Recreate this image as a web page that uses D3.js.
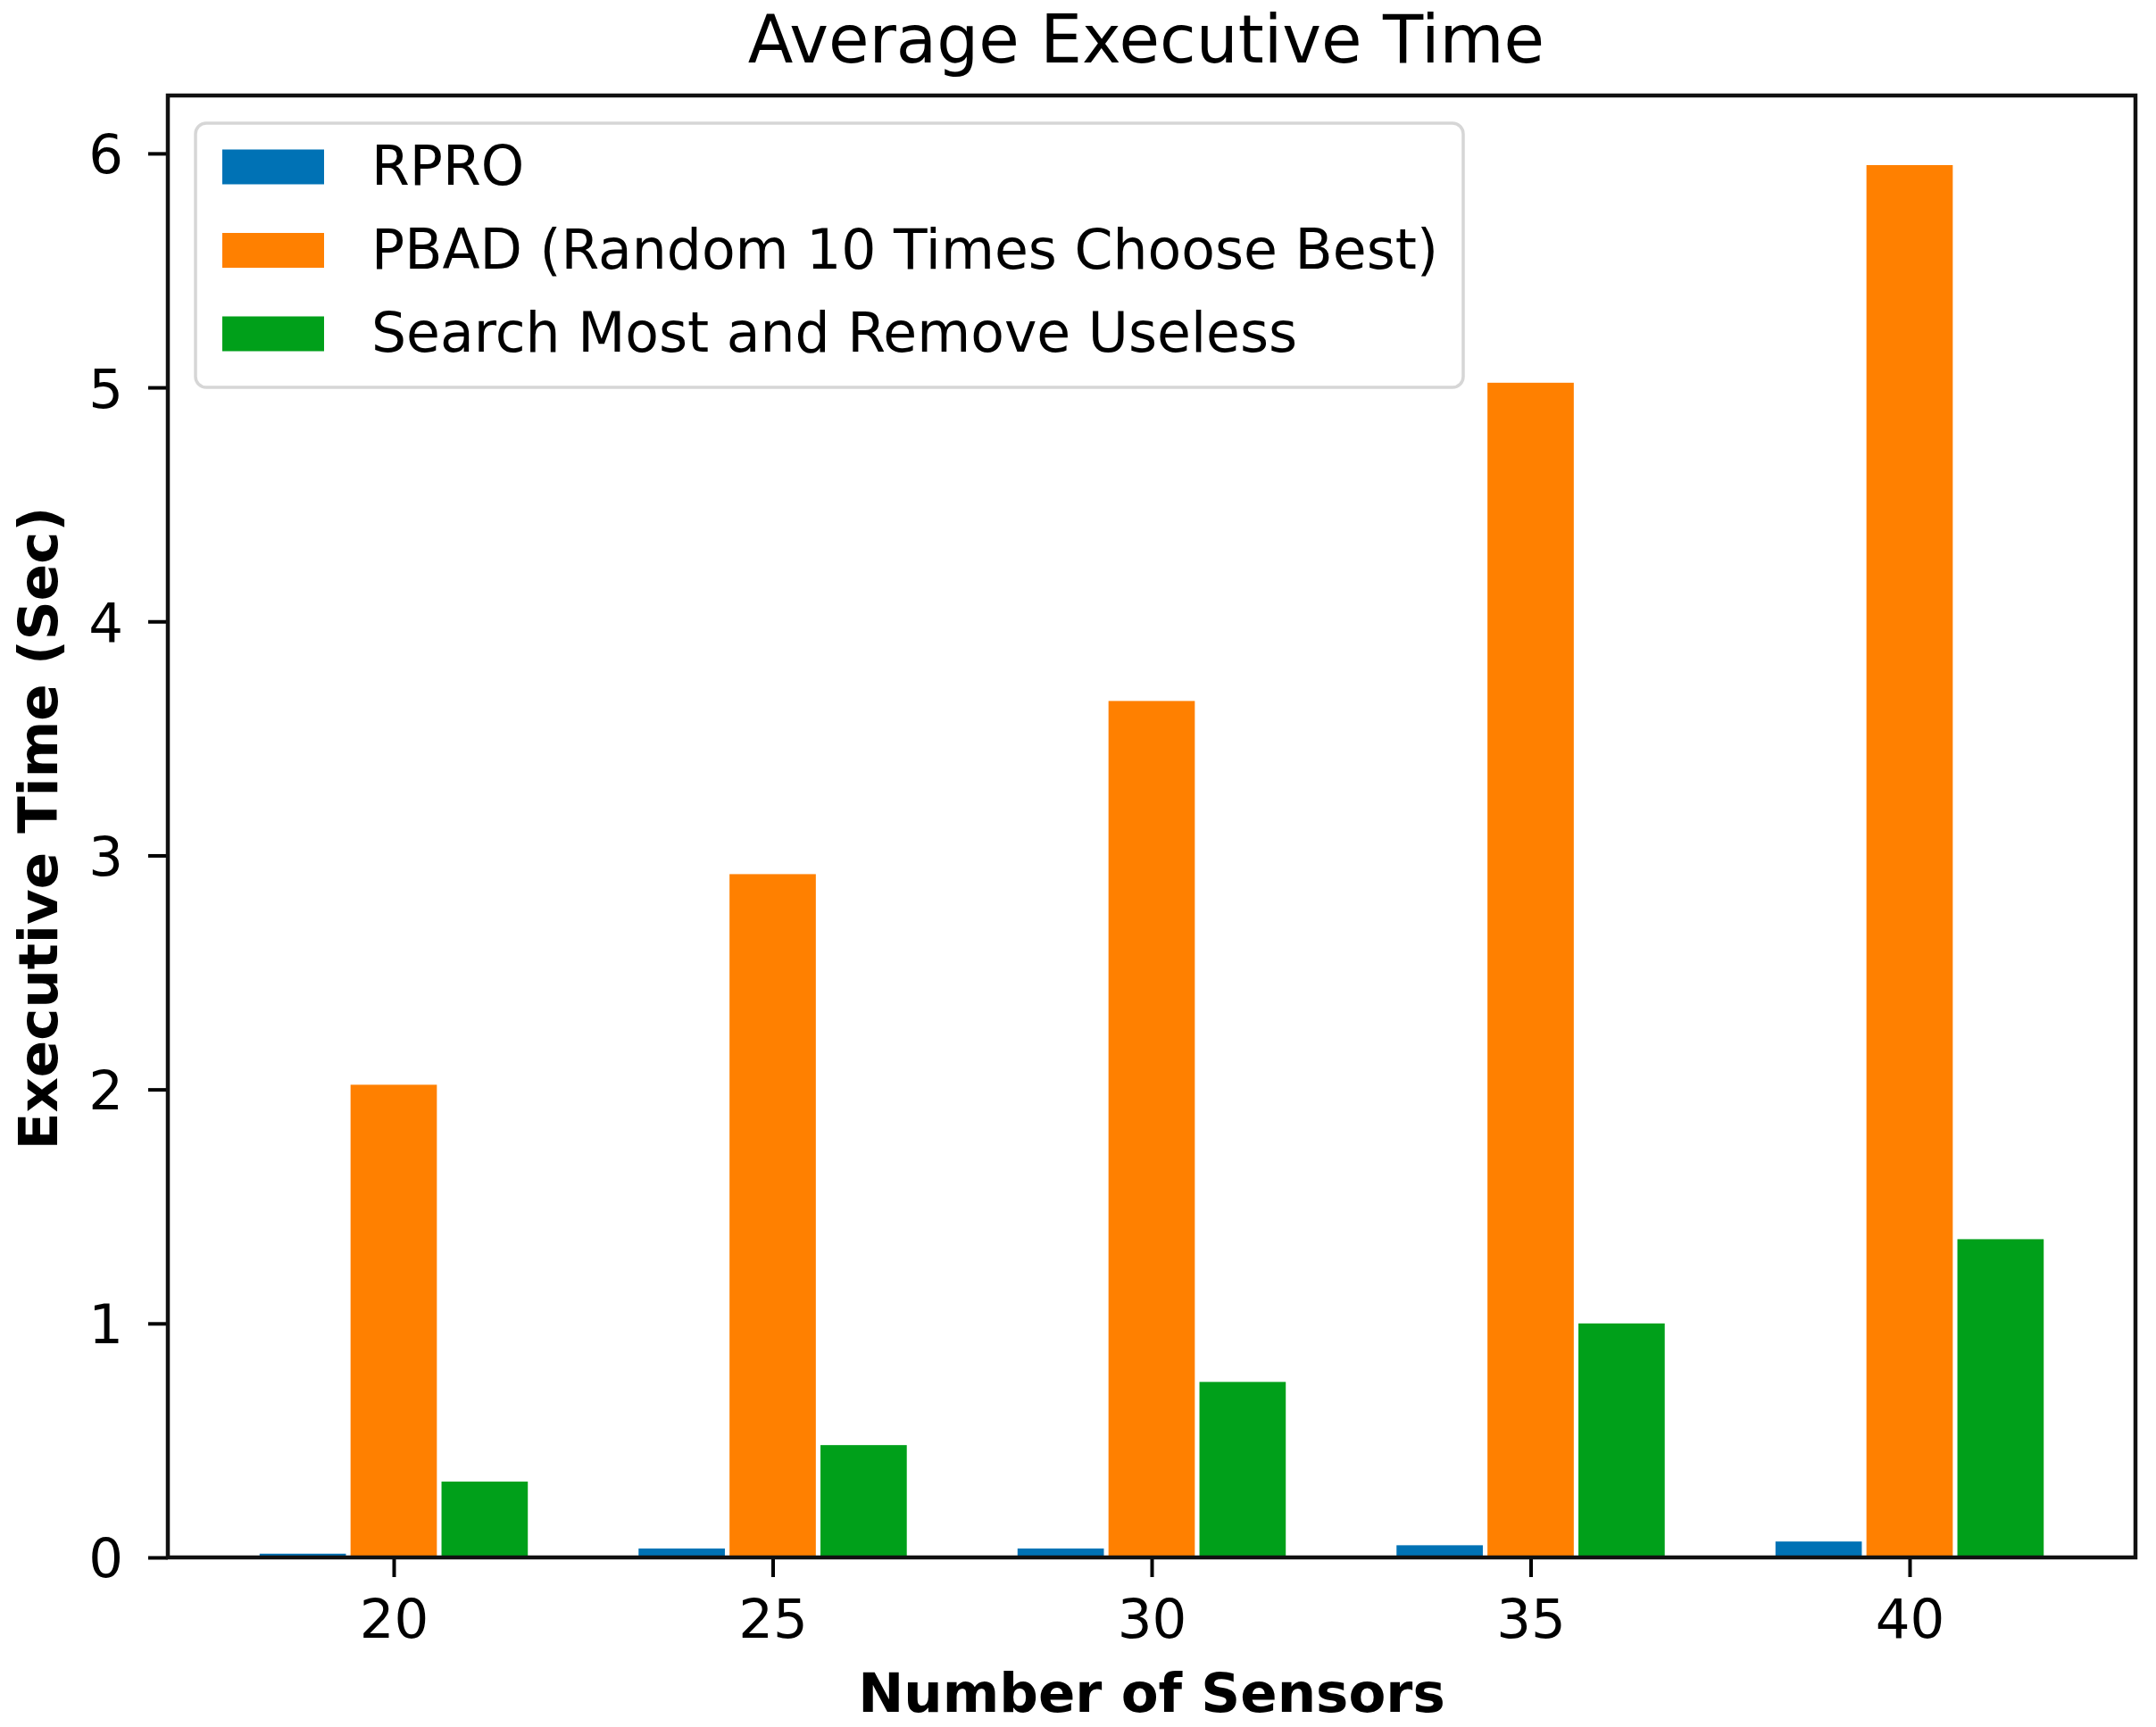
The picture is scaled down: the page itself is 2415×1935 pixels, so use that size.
<!DOCTYPE html>
<html>
<head>
<meta charset="utf-8">
<script src="https://cdn.jsdelivr.net/npm/d3@7"></script>
<style>
  html, body { margin: 0; padding: 0; background: #ffffff; }
  svg { display: block; }
  text { font-family: "DejaVu Sans", sans-serif; fill: #000; }
</style>
</head>
<body>
<svg id="chart" width="2415" height="1935"></svg>
<script>
// ---- data ----
const categories = [20, 25, 30, 35, 40];
const seriesNames = ["RPRO", "PBAD (Random 10 Times Choose Best)", "Search Most and Remove Useless"];
const rproValues = [0.016, 0.038, 0.038, 0.052, 0.068];
const pbadValues = [2.02, 2.92, 3.66, 5.02, 5.95];
const searchValues = [0.324, 0.48, 0.75, 1.00, 1.36];
const yTicks = [0, 1, 2, 3, 4, 5, 6];
const xTicks = [20, 25, 30, 35, 40];
const titleText = "Average Executive Time";
const xLabelText = "Number of Sensors";
const yLabelText = "Executive Time (Sec)";

// ---- layout / style ----
const colors = ["#0072b5", "#ff8000", "#00a01a"];
const barWidth = 1.2; // data units
const plotLeft = 188, plotRight = 2392, plotTop = 107, plotBottom = 1745;
const tickFont = 61, titleFont = 74, labelFont = 61, legendFont = 61.6;

const svg = d3.select("#chart");

const allSeries = [rproValues, pbadValues, searchValues];
const xMin = d3.min(categories) - barWidth * 1.5;
const xMax = d3.max(categories) + barWidth * 1.5;
const xPad = (xMax - xMin) * 0.05;
const x = d3.scaleLinear().domain([xMin - xPad, xMax + xPad]).range([plotLeft, plotRight]);
const yMaxVal = d3.max(allSeries.flat());
const y = d3.scaleLinear().domain([0, yMaxVal * 1.05]).range([plotBottom, plotTop]);

// bars
const inset = 2.6;
allSeries.forEach((vals, si) => {
  svg.append("g").selectAll("rect")
    .data(categories.map((c, i) => ({ c, v: vals[i] })))
    .join("rect")
    .attr("x", d => x(d.c + (si - 1) * barWidth - barWidth / 2) + inset)
    .attr("width", d => x(d.c + (si - 1) * barWidth + barWidth / 2) - x(d.c + (si - 1) * barWidth - barWidth / 2) - 2 * inset)
    .attr("y", d => y(d.v))
    .attr("height", d => y(0) - y(d.v))
    .attr("fill", colors[si]);
});

// axes
const xAxis = d3.axisBottom(x).tickValues(xTicks).tickSize(22).tickPadding(23).tickFormat(d3.format("d"));
const gx = svg.append("g").attr("transform", `translate(0,${plotBottom})`).call(xAxis);
gx.select(".domain").remove();
gx.selectAll(".tick line").attr("stroke", "#000").attr("stroke-width", 4);
gx.selectAll(".tick text").attr("font-size", tickFont).attr("font-family", "DejaVu Sans").attr("fill", "#111").attr("dy", "0.74em");

const yAxis = d3.axisLeft(y).tickValues(yTicks).tickSize(22).tickPadding(28).tickFormat(d3.format("d"));
const gy = svg.append("g").attr("transform", `translate(${plotLeft},0)`).call(yAxis);
gy.select(".domain").remove();
gy.selectAll(".tick line").attr("stroke", "#000").attr("stroke-width", 4);
gy.selectAll(".tick text").attr("font-size", tickFont).attr("font-family", "DejaVu Sans").attr("fill", "#111").attr("dy", "0.36em");

// frame
svg.append("rect")
  .attr("x", plotLeft).attr("y", plotTop)
  .attr("width", plotRight - plotLeft).attr("height", plotBottom - plotTop)
  .attr("fill", "none").attr("stroke", "#111").attr("stroke-width", 4.5);

// title & labels
svg.append("text").attr("x", (plotLeft + plotRight) / 2 - 6).attr("y", 70)
  .attr("text-anchor", "middle").attr("font-size", titleFont).text(titleText);
svg.append("text").attr("x", (plotLeft + plotRight) / 2).attr("y", 1918)
  .attr("text-anchor", "middle").attr("font-size", labelFont).attr("font-weight", "bold").text(xLabelText);
svg.append("text").attr("transform", `translate(64,${(plotTop + plotBottom) / 2 + 2}) rotate(-90)`)
  .attr("text-anchor", "middle").attr("font-size", labelFont).attr("font-weight", "bold").text(yLabelText);

// legend
const lg = svg.append("g");
lg.append("rect").attr("x", 219).attr("y", 138).attr("width", 1420).attr("height", 296)
  .attr("rx", 12).attr("fill", "#fff").attr("fill-opacity", 0.8)
  .attr("stroke", "#d6d6d6").attr("stroke-width", 3.5);
seriesNames.forEach((name, i) => {
  const cy = 187 + i * 93.5;
  lg.append("rect").attr("x", 249).attr("y", cy - 19.5).attr("width", 114).attr("height", 39).attr("fill", colors[i]);
  lg.append("text").attr("x", 416).attr("y", cy + 20).attr("font-size", legendFont).attr("fill", "#111").text(name);
});
</script>
</body>
</html>
